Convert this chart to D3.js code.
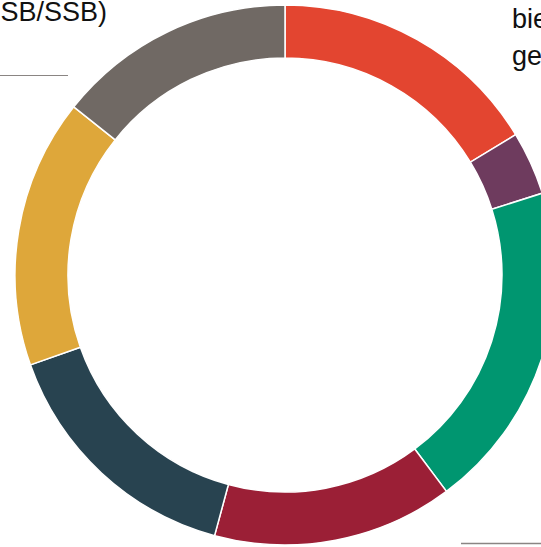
<!DOCTYPE html>
<html>
<head>
<meta charset="utf-8"/>
<title>Donut</title>
<script src="https://d3js.org/d3.v7.min.js"></script>
<style>
	body { margin: 0; background: #fff; }
	svg { display: block; }
</style>
</head>
<body>
<svg width="541" height="547"></svg>
<script>
	// slice shares (percent), clockwise from 12 o'clock
	var categories = ["s1", "s2", "s3", "s4", "s5", "s6", "s7"];
	var values = [16.3, 3.8, 19.7, 14.4, 15.4, 16.1, 14.3];
	var colors = ["#e34530", "#6e3b5e", "#009670", "#9b1f36", "#284350", "#dea73a", "#706964"];

	var leftNote = ["Kilde: SSB (SSB/SSB)"];
	var rightNote = ["bierverv", "gevinst"];

	var width = 541, height = 547;
	var cx = 285, cy = 275;
	var outerR = 270, innerR = 217;

	var svg = d3.select("svg");

	var data = categories.map(function(c, i) { return {name: c, value: values[i]}; });

	var pie = d3.pie()
		.sort(null)
		.value(function(d) { return d.value; });

	var arc = d3.arc()
		.innerRadius(innerR)
		.outerRadius(outerR);

	var color = d3.scaleOrdinal().domain(categories).range(colors);

	var g = svg.append("g")
		.attr("transform", "translate(" + cx + "," + cy + ")");

	g.selectAll("path")
		.data(pie(data))
		.enter()
		.append("path")
		.attr("d", arc)
		.attr("fill", function(d) { return color(d.data.name); })
		.attr("stroke", "#fff")
		.attr("stroke-width", 1.5);

	// cropped notes around the chart
	svg.append("text")
		.attr("x", 107)
		.attr("y", 21)
		.attr("text-anchor", "end")
		.attr("font-family", "Liberation Sans, Arial, sans-serif")
		.attr("font-size", 27)
		.attr("fill", "#111")
		.text(leftNote[0]);

	svg.append("line")
		.attr("x1", 0).attr("x2", 68)
		.attr("y1", 75.5).attr("y2", 75.5)
		.attr("stroke", "#8a8583")
		.attr("stroke-width", 1);

	svg.selectAll("text.rnote")
		.data(rightNote)
		.enter()
		.append("text")
		.attr("class", "rnote")
		.attr("x", 512)
		.attr("y", function(d, i) { return 28 + i * 37; })
		.attr("font-family", "Liberation Sans, Arial, sans-serif")
		.attr("font-size", 27)
		.attr("fill", "#111")
		.text(function(d) { return d; });

	svg.append("line")
		.attr("x1", 461).attr("x2", 541)
		.attr("y1", 543.5).attr("y2", 543.5)
		.attr("stroke", "#8a8583")
		.attr("stroke-width", 1.5);
</script>
</body>
</html>
